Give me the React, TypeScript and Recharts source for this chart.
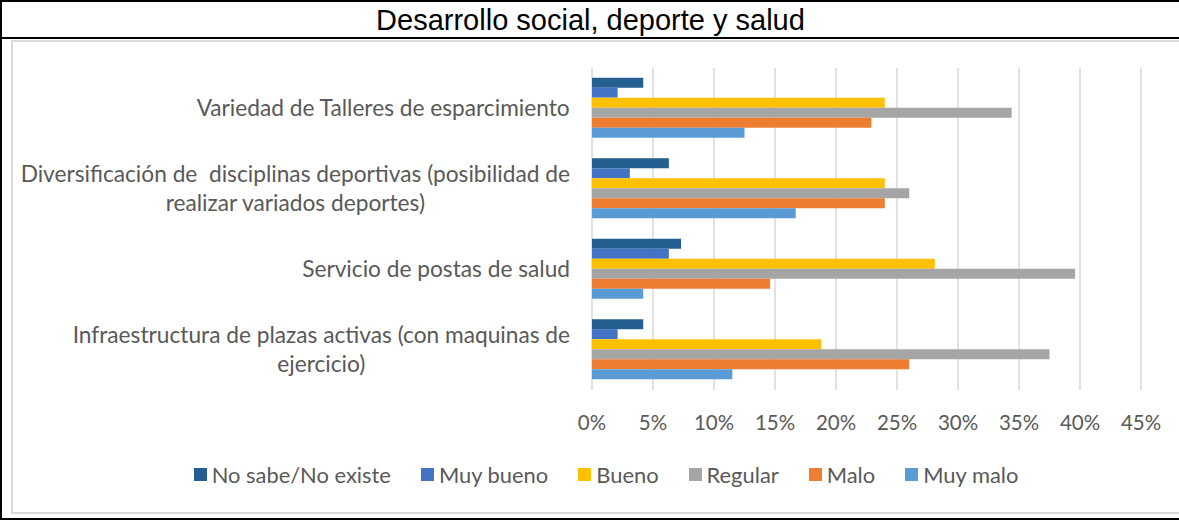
import React from 'react';
import { BarChart, Bar, XAxis, YAxis, CartesianGrid, Legend } from 'recharts';

const title = 'Desarrollo social, deporte y salud';

const categories = [
  'Variedad de Talleres de esparcimiento',
  'Diversificación de  disciplinas deportivas (posibilidad de realizar variados deportes)',
  'Servicio de postas de salud',
  'Infraestructura de plazas activas (con maquinas de ejercicio)',
];

const categoryLines = [
  ['Variedad de Talleres de esparcimiento'],
  ['Diversificación de  disciplinas deportivas (posibilidad de', 'realizar variados deportes)'],
  ['Servicio de postas de salud'],
  ['Infraestructura de plazas activas (con maquinas de', 'ejercicio)'],
];

const noSabe = [4.2, 6.3, 7.3, 4.2];
const muyBueno = [2.1, 3.1, 6.3, 2.1];
const bueno = [24.0, 24.0, 28.1, 18.8];
const regular = [34.4, 26.0, 39.6, 37.5];
const malo = [22.9, 24.0, 14.6, 26.0];
const muyMalo = [12.5, 16.7, 4.2, 11.5];

const seriesNames = ['No sabe/No existe', 'Muy bueno', 'Bueno', 'Regular', 'Malo', 'Muy malo'];
const seriesKeys = ['noSabe', 'muyBueno', 'bueno', 'regular', 'malo', 'muyMalo'];
const seriesColors = ['#255E91', '#4472C4', '#FFC000', '#A5A5A5', '#ED7D31', '#5B9BD5'];

const xTicks = [0, 5, 10, 15, 20, 25, 30, 35, 40, 45];

const data = categories.map((c, i) => ({
  name: c,
  noSabe: noSabe[i],
  muyBueno: muyBueno[i],
  bueno: bueno[i],
  regular: regular[i],
  malo: malo[i],
  muyMalo: muyMalo[i],
}));

const FONT = 'Lato, "Noto Sans", sans-serif';
const YLABEL_SIZE = 22.7;
const TICK_SIZE = 20.5;
const LEGEND_SIZE = 21.9;
const TEXT_COLOR = '#595959';

let ctx: CanvasRenderingContext2D | null = null;
function measure(text: string): number {
  if (!ctx) {
    const c = document.createElement('canvas');
    ctx = c.getContext('2d');
  }
  if (!ctx) return text.length * 10;
  ctx.font = `${YLABEL_SIZE}px Lato`;
  return ctx.measureText(text).width;
}

const LINE_H = 29.5;

const YTick = (props: any) => {
  const { x, y, payload } = props;
  const idx = categories.indexOf(payload.value);
  const lines = idx >= 0 ? categoryLines[idx] : [String(payload.value)];
  const widths = lines.map(measure);
  const W = Math.max(...widths);
  const cx = x - W / 2;
  const n = lines.length;
  return (
    <g>
      {lines.map((ln, i) => (
        <text
          key={i}
          x={cx}
          y={y + (i - (n - 1) / 2) * LINE_H}
          dy="0.35em"
          textAnchor="middle"
          fill={TEXT_COLOR}
          fontSize={YLABEL_SIZE}
          fontFamily={FONT}
          style={{ whiteSpace: 'pre' }}
        >
          {ln}
        </text>
      ))}
    </g>
  );
};

const LegendContent = () => (
  <div
    style={{
      height: 26,
      display: 'flex',
      justifyContent: 'center',
      alignItems: 'center',
      paddingLeft: 20,
      fontFamily: FONT,
      fontSize: LEGEND_SIZE,
      color: TEXT_COLOR,
    }}
  >
    {seriesNames.map((n, i) => (
      <div key={n} style={{ display: 'flex', alignItems: 'center', marginRight: i < seriesNames.length - 1 ? 30 : 0 }}>
        <span style={{ display: 'inline-block', width: 13, height: 13, background: seriesColors[i], marginRight: 5 }} />
        <span style={{ whiteSpace: 'nowrap' }}>{n}</span>
      </div>
    ))}
  </div>
);

export default function App() {
  return (
    <div
      style={{
        position: 'absolute',
        left: 0,
        top: 0,
        width: 1179,
        height: 520,
        background: '#fff',
        overflow: 'hidden',
      }}
    >
      <div style={{ position: 'absolute', left: 0, top: 0, width: 1179, height: 2, background: '#000' }} />
      <div style={{ position: 'absolute', left: 0, top: 0, width: 2, height: 520, background: '#000' }} />
      <div style={{ position: 'absolute', left: 0, top: 518, width: 1179, height: 2, background: '#000' }} />
      <div style={{ position: 'absolute', left: 2, top: 37, width: 1177, height: 2, background: '#000' }} />
      <div
        style={{
          position: 'absolute',
          left: 2,
          top: 2,
          width: 1177,
          height: 36,
          display: 'flex',
          alignItems: 'center',
          justifyContent: 'center',
          fontFamily: '"Liberation Sans", Arial, sans-serif',
          fontSize: 29,
          color: '#000',
        }}
      >
        {title}
      </div>
      <div
        style={{
          position: 'absolute',
          left: 11,
          top: 40,
          width: 1168,
          height: 474,
          boxSizing: 'border-box',
          borderLeft: '2px solid #D9D9D9',
          borderTop: '2px solid #D9D9D9',
          borderBottom: '2px solid #D9D9D9',
        }}
      >
        <BarChart
          width={1166}
          height={470}
          data={data}
          layout="vertical"
          barCategoryGap="12%"
          barGap={0}
          margin={{ top: 26, right: 38, left: 0, bottom: 25 }}
        >
          <CartesianGrid horizontal={false} stroke="#D9D9D9" strokeWidth={1.5} />
          <XAxis
            type="number"
            domain={[0, 45]}
            ticks={xTicks}
            interval={0}
            axisLine={false}
            tickLine={false}
            tickSize={0}
            tickMargin={25}
            height={71}
            tickFormatter={(v: number) => `${v}%`}
            tick={{ fill: TEXT_COLOR, fontSize: TICK_SIZE, fontFamily: FONT }}
          />
          <YAxis
            type="category"
            dataKey="name"
            width={579}
            axisLine={false}
            tickLine={false}
            tickSize={0}
            tickMargin={22}
            interval={0}
            tick={<YTick />}
          />
          {seriesKeys.map((k, i) => (
            <Bar key={k} dataKey={k} name={seriesNames[i]} fill={seriesColors[i]} isAnimationActive={false} />
          ))}
          <Legend verticalAlign="bottom" content={() => <LegendContent />} wrapperStyle={{ left: 0, width: 1166 }} />
        </BarChart>
      </div>
    </div>
  );
}
